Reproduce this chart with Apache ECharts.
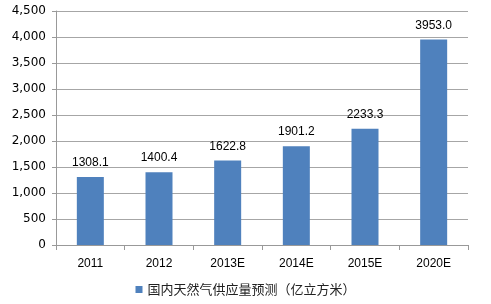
<!DOCTYPE html>
<html><head><meta charset="utf-8">
<script src="https://cdn.jsdelivr.net/npm/echarts@6/dist/echarts.min.js"></script>
<style>html,body{margin:0;padding:0;background:#fff}#c{width:491px;height:304px}</style>
</head><body><div id="c"></div>
<script>
const categories = ["2011", "2012", "2013E", "2014E", "2015E", "2020E"];
const supplyValues = [1308.1, 1400.4, 1622.8, 1901.2, 2233.3, 3953.0];
const seriesName = "国内天然气供应量预测（亿立方米）";

const chart = echarts.init(document.getElementById('c'), null, {renderer: 'canvas'});
chart.setOption({
  animation: false,
  backgroundColor: '#fff',
  grid: {left: 56, right: 23, top: 11, bottom: 59, containLabel: false},
  legend: {
    data: [seriesName], bottom: 3, left: 'center',
    icon: 'rect', itemWidth: 7, itemHeight: 7, itemGap: 4,
    textStyle: {fontSize: 13, color: '#222', fontFamily: 'Noto Sans CJK SC'}
  },
  xAxis: {
    type: 'category', data: categories,
    axisLine: {lineStyle: {color: '#999', width: 1}},
    axisTick: {show: true, length: 5, lineStyle: {color: '#999'}},
    axisLabel: {margin: 13, fontSize: 12, color: '#000', fontFamily: 'Liberation Sans'}
  },
  yAxis: {
    type: 'value', min: 0, max: 4500, interval: 500,
    axisLine: {show: true, lineStyle: {color: '#999', width: 1}},
    axisTick: {show: true, length: 4, lineStyle: {color: '#999'}},
    splitLine: {lineStyle: {color: '#a6a6a6', width: 1}},
    axisLabel: {margin: 10, fontSize: 12, color: '#000', fontFamily: 'DejaVu Sans',
      formatter: v => v.toLocaleString('en-US')}
  },
  series: [{
    name: seriesName, type: 'bar', data: supplyValues, barWidth: 27,
    itemStyle: {color: '#4f81bd'},
    label: {show: true, position: 'top', distance: 8, fontSize: 12, color: '#000',
      fontFamily: 'Liberation Sans', formatter: p => p.value.toFixed(1)}
  }]
});
</script></body></html>
